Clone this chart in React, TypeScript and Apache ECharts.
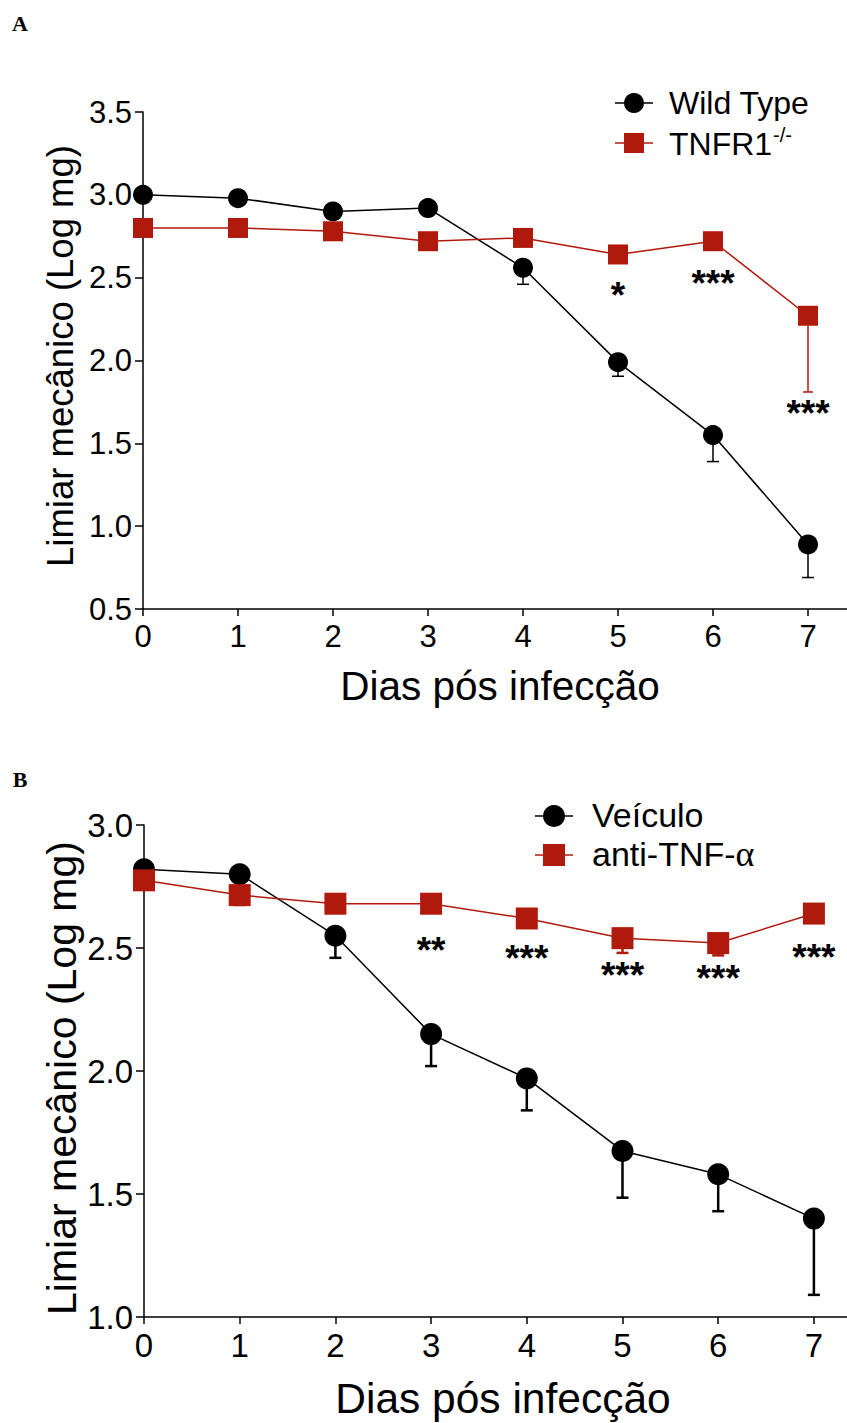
import React, { useEffect, useRef } from "react";
import * as echarts from "echarts";

// ---- data ----
const days = [0, 1, 2, 3, 4, 5, 6, 7];
const dayTicks = [0, 1, 2, 3, 4, 5, 6, 7];

// Panel A
const wtValues = [3.0, 2.98, 2.9, 2.92, 2.56, 1.99, 1.55, 0.89];
const wtErr = [0, 0, 0, 0, 0.1, 0.085, 0.16, 0.2];
const tnfr1Values = [2.8, 2.8, 2.78, 2.72, 2.74, 2.64, 2.72, 2.27];
const tnfr1Err = [0, 0, 0, 0, 0, 0, 0, 0.46];
const starsADays = [5, 6, 7];
const starsAY = [2.394, 2.467, 1.681];
const starsAText = ["*", "***", "***"];
const yTicksA = [0.5, 1.0, 1.5, 2.0, 2.5, 3.0, 3.5];

// Panel B
const veiculoValues = [2.82, 2.8, 2.55, 2.15, 1.97, 1.675, 1.58, 1.4];
const veiculoErr = [0, 0, 0.09, 0.13, 0.13, 0.19, 0.15, 0.31];
const antiValues = [2.775, 2.715, 2.68, 2.68, 2.62, 2.54, 2.52, 2.64];
const antiErr = [0, 0.04, 0, 0, 0, 0.06, 0.05, 0];
const starsBDays = [3, 4, 5, 6, 7];
const starsBY = [2.488, 2.457, 2.39, 2.378, 2.461];
const starsBText = ["**", "***", "***", "***", "***"];
const yTicksB = [1.0, 1.5, 2.0, 2.5, 3.0];

const RED = "#b01a0c";
const BLACK = "#000000";
const SANS = "'Liberation Sans', Arial, sans-serif";

function errSeries(name: string, vals: number[], errs: number[], grid: number, color: string, lw: number, capHalf: number) {
  const data = days
    .map((d, i) => [d, vals[i], errs[i]])
    .filter((r) => r[2] > 0);
  return {
    type: "custom",
    name,
    xAxisIndex: grid,
    yAxisIndex: grid,
    z: 1,
    silent: true,
    data,
    renderItem: (_params: any, api: any) => {
      const x = api.value(0);
      const y = api.value(1);
      const e = api.value(2);
      const p = api.coord([x, y]);
      const q = api.coord([x, y - e]);
      return {
        type: "group",
        children: [
          { type: "line", shape: { x1: p[0], y1: p[1], x2: q[0], y2: q[1] }, style: { stroke: color, lineWidth: lw } },
          { type: "line", shape: { x1: q[0] - capHalf, y1: q[1], x2: q[0] + capHalf, y2: q[1] }, style: { stroke: color, lineWidth: lw } },
        ],
      };
    },
  };
}

function lineSeries(name: string, vals: number[], grid: number, color: string, symbol: string, size: number, z: number) {
  return {
    type: "line",
    name,
    xAxisIndex: grid,
    yAxisIndex: grid,
    z,
    data: days.map((d, i) => [d, vals[i]]),
    symbol,
    symbolSize: size,
    showSymbol: true,
    lineStyle: { color, width: 1.5 },
    itemStyle: { color, borderWidth: 0 },
  };
}

function starSeries(xs: number[], ys: number[], texts: string[], grid: number) {
  return {
    type: "custom",
    xAxisIndex: grid,
    yAxisIndex: grid,
    z: 5,
    silent: true,
    data: xs.map((x, i) => [x, ys[i], i]),
    renderItem: (_params: any, api: any) => {
      const p = api.coord([api.value(0), api.value(1)]);
      const idx = api.value(2);
      return {
        type: "text",
        x: p[0],
        y: p[1],
        style: {
          text: texts[idx],
          fill: BLACK,
          font: "bold 37px 'Liberation Sans', Arial, sans-serif",
          textAlign: "center",
          textVerticalAlign: "middle",
        },
      };
    },
  };
}

function xAxisFor(grid: number, max: number, fontSize: number) {
  return {
    type: "value",
    gridIndex: grid,
    min: 0,
    max,
    axisLine: { show: true, lineStyle: { color: BLACK, width: 1.5 } },
    axisTick: { show: true, length: 7, customValues: dayTicks, lineStyle: { color: BLACK, width: 1.5 } },
    axisLabel: { customValues: dayTicks, margin: 12, color: BLACK, fontSize, fontFamily: SANS },
    splitLine: { show: false },
  };
}

function yAxisFor(grid: number, min: number, max: number, ticks: number[], fontSize: number) {
  return {
    type: "value",
    gridIndex: grid,
    min,
    max,
    interval: 0.5,
    axisLine: { show: true, onZero: false, lineStyle: { color: BLACK, width: 1.5 } },
    axisTick: { show: true, length: 8, customValues: ticks, lineStyle: { color: BLACK, width: 1.5 } },
    axisLabel: {
      customValues: ticks,
      margin: 11,
      color: BLACK,
      fontSize,
      fontFamily: SANS,
      formatter: (v: number) => v.toFixed(1),
    },
    splitLine: { show: false },
  };
}

export default function App() {
  const ref = useRef<HTMLDivElement>(null);
  useEffect(() => {
    if (!ref.current) return;
    const chart = echarts.init(ref.current, null, { renderer: "svg", width: 847, height: 1423 });
    const option: any = {
      animation: false,
      backgroundColor: "#ffffff",
      grid: [
        { left: 143, top: 112, width: 704, height: 497 },
        { left: 144, top: 825, width: 703, height: 492 },
      ],
      xAxis: [xAxisFor(0, 704 / 95, 31), xAxisFor(1, 703 / 95.7, 33)],
      yAxis: [yAxisFor(0, 0.5, 3.5, yTicksA, 31), yAxisFor(1, 1.0, 3.0, yTicksB, 33)],
      series: [
        errSeries("errWT", wtValues, wtErr, 0, BLACK, 1.5, 6),
        errSeries("errTNFR1", tnfr1Values, tnfr1Err, 0, RED, 1.5, 5),
        lineSeries("Wild Type", wtValues, 0, BLACK, "circle", 20, 2),
        lineSeries("TNFR1-/-", tnfr1Values, 0, RED, "rect", 20, 3),
        starSeries(starsADays, starsAY, starsAText, 0),
        errSeries("errVeh", veiculoValues, veiculoErr, 1, BLACK, 2.5, 6),
        errSeries("errAnti", antiValues, antiErr, 1, RED, 2.5, 6),
        lineSeries("Veículo", veiculoValues, 1, BLACK, "circle", 22, 2),
        lineSeries("anti-TNF-α", antiValues, 1, RED, "rect", 22, 3),
        starSeries(starsBDays, starsBY, starsBText, 1),
      ],
      graphic: [
        // panel letters
        { type: "text", x: 20, y: 23, style: { text: "A", font: "bold 22px 'Liberation Serif', 'Times New Roman', serif", fill: BLACK, textAlign: "center", textVerticalAlign: "middle" } },
        { type: "text", x: 20, y: 779, style: { text: "B", font: "bold 22px 'Liberation Serif', 'Times New Roman', serif", fill: BLACK, textAlign: "center", textVerticalAlign: "middle" } },
        // axis titles
        { type: "text", x: 60, y: 356, rotation: Math.PI / 2, style: { text: "Limiar mecânico (Log mg)", font: "36.5px 'Liberation Sans', Arial, sans-serif", fill: BLACK, textAlign: "center", textVerticalAlign: "middle" } },
        { type: "text", x: 500, y: 686, style: { text: "Dias pós infecção", font: "40.5px 'Liberation Sans', Arial, sans-serif", fill: BLACK, textAlign: "center", textVerticalAlign: "middle" } },
        { type: "text", x: 62, y: 1078, rotation: Math.PI / 2, style: { text: "Limiar mecânico (Log mg)", font: "41px 'Liberation Sans', Arial, sans-serif", fill: BLACK, textAlign: "center", textVerticalAlign: "middle" } },
        { type: "text", x: 503, y: 1398, style: { text: "Dias pós infecção", font: "42.5px 'Liberation Sans', Arial, sans-serif", fill: BLACK, textAlign: "center", textVerticalAlign: "middle" } },
        // legend A
        { type: "line", shape: { x1: 615, y1: 103, x2: 653, y2: 103 }, style: { stroke: BLACK, lineWidth: 1.5 } },
        { type: "circle", shape: { cx: 634, cy: 103, r: 10 }, style: { fill: BLACK } },
        { type: "text", x: 669, y: 103, style: { text: "Wild Type", font: "32px 'Liberation Sans', Arial, sans-serif", fill: BLACK, textVerticalAlign: "middle" } },
        { type: "line", shape: { x1: 615, y1: 143, x2: 653, y2: 143 }, style: { stroke: RED, lineWidth: 1.5 } },
        { type: "rect", shape: { x: 624, y: 133, width: 20, height: 20 }, style: { fill: RED } },
        { type: "text", x: 669, y: 144, style: { text: "TNFR1", font: "32px 'Liberation Sans', Arial, sans-serif", fill: BLACK, textVerticalAlign: "middle" } },
        { type: "text", x: 773, y: 135, style: { text: "-/-", font: "20px 'Liberation Sans', Arial, sans-serif", fill: BLACK, textVerticalAlign: "middle" } },
        // legend B
        { type: "line", shape: { x1: 535, y1: 816, x2: 573, y2: 816 }, style: { stroke: BLACK, lineWidth: 1.5 } },
        { type: "circle", shape: { cx: 554, cy: 816, r: 11 }, style: { fill: BLACK } },
        { type: "text", x: 592, y: 815, style: { text: "Veículo", font: "34px 'Liberation Sans', Arial, sans-serif", fill: BLACK, textVerticalAlign: "middle" } },
        { type: "line", shape: { x1: 535, y1: 855, x2: 573, y2: 855 }, style: { stroke: RED, lineWidth: 1.5 } },
        { type: "rect", shape: { x: 543, y: 844, width: 22, height: 22 }, style: { fill: RED } },
        {
          type: "text",
          x: 592,
          y: 854,
          style: {
            text: "{a|anti-TNF-}{b|α}",
            textVerticalAlign: "middle",
            rich: {
              a: { fontSize: 34, fontFamily: SANS, fill: BLACK, color: BLACK },
              b: { fontSize: 36, fontFamily: "'Liberation Serif', 'Times New Roman', serif", fill: BLACK, color: BLACK },
            },
          },
        },
      ],
    };
    chart.setOption(option);
    return () => chart.dispose();
  }, []);
  return <div ref={ref} style={{ position: "absolute", left: 0, top: 0, width: 847, height: 1423, background: "#fff" }} />;
}
